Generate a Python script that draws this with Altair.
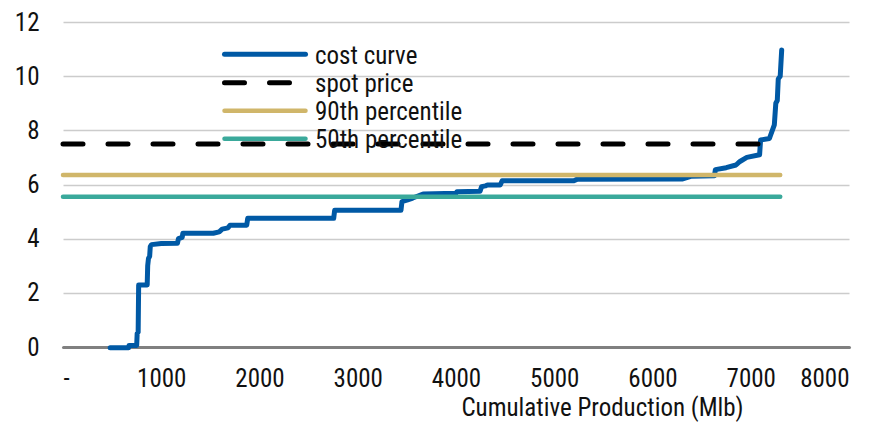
import altair as alt
import pandas as pd

# ---- data ----
cost_x = [480, 668, 672, 750, 755, 765, 770, 857, 862, 870, 882, 888, 900, 1000,
          1165, 1175, 1213, 1220, 1530, 1590, 1620, 1680, 1700, 1870, 1880, 2755,
          2765, 3440, 3450, 3500, 3560, 3665, 4000, 4010, 4245, 4260, 4300, 4320,
          4450, 4470, 5200, 5230, 6300, 6390, 6630, 6640, 6750, 6850, 6890, 6960,
          7090, 7100, 7190, 7200, 7240, 7255, 7270, 7280, 7300, 7315]
cost_y = [-0.03, -0.03, 0.06, 0.06, 0.5, 0.55, 2.29, 2.29, 3.0, 3.27, 3.35, 3.7, 3.78, 3.82,
          3.83, 4.0, 4.05, 4.2, 4.2, 4.25, 4.35, 4.4, 4.5, 4.5, 4.75, 4.75,
          5.05, 5.05, 5.37, 5.42, 5.5, 5.65, 5.68, 5.73, 5.75, 5.92, 5.95, 5.98,
          5.98, 6.14, 6.14, 6.19, 6.2, 6.3, 6.32, 6.55, 6.62, 6.72, 6.85, 7.0,
          7.1, 7.64, 7.7, 7.8, 8.2, 9.0, 9.1, 9.9, 10.0, 10.97]

spot_price = 7.5
pct_90 = 6.35
pct_50 = 5.55
ref_start = 0
ref_end = 7300

series_names = ["cost curve", "spot price", "90th percentile", "50th percentile"]
series_colors = ["#0059A5", "#000000", "#D0B66A", "#3AA99B"]
x_ticks = [0, 1000, 2000, 3000, 4000, 5000, 6000, 7000, 8000]
y_ticks = [0, 2, 4, 6, 8, 10, 12]

FONT = "Roboto Condensed, Liberation Sans Narrow, Roboto, sans-serif"
FS = 25

curve_df = pd.DataFrame({"x": cost_x, "y": cost_y, "i": list(range(len(cost_x)))})

x_enc = alt.X("x:Q", scale=alt.Scale(domain=[0, 8000], nice=False),
              axis=alt.Axis(values=x_ticks, format="d",
                            labelExpr="datum.value == 0 ? '-' : datum.label",
                            grid=False, ticks=False, tickSize=0,
                            domain=True, domainColor="#808080", domainWidth=3,
                            domainCap="round",
                            labelFont=FONT, labelFontSize=FS, labelColor="#111111",
                            labelPadding=19, labelBaseline="top",
                            title="Cumulative Production (Mlb)",
                            titleFont=FONT, titleFontSize=FS, titleFontWeight="normal",
                            titleColor="#111111", titleX=539, titleY=68,
                            titleAlign="center", titleBaseline="alphabetic"))
y_enc = alt.Y("y:Q", scale=alt.Scale(domain=[0, 12], nice=False),
              axis=alt.Axis(values=y_ticks, grid=True, gridColor="#cccccc",
                            gridWidth=1.3, domain=False, ticks=False, tickSize=0,
                            labelFont=FONT, labelFontSize=FS, labelColor="#111111",
                            labelPadding=24, title=None))

curve = alt.Chart(curve_df).mark_line(
    color=series_colors[0], strokeWidth=5, strokeCap="round", strokeJoin="round"
).encode(x=x_enc, y=y_enc, order="i:Q")

layers = [curve]
ref_values = [spot_price, pct_90, pct_50]
for k, val in enumerate(ref_values):
    name = series_names[k + 1]
    df = pd.DataFrame({"x": [ref_start], "x2": [ref_end], "y": [val], "s": [name]})
    kw = dict(color=series_colors[k + 1], strokeWidth=5 if k == 0 else 4.5,
              strokeCap="round")
    if k == 0:
        kw["strokeDash"] = [20, 25]
    layers.append(alt.Chart(df).mark_rule(**kw).encode(
        x="x:Q", x2="x2:Q", y="y:Q"))

# ---- legend (drawn as marks) ----
leg_sym_y = [32.3, 60.7, 88.7, 116.7]
leg_txt_y = [41.5, 69.9, 98.2, 125.9]
for k, name in enumerate(series_names):
    ldf = pd.DataFrame({"label": [name]})
    kw = dict(color=series_colors[k], strokeWidth=5 if k < 2 else 4.5, strokeCap="round")
    if k == 1:
        kw["strokeDash"] = [20, 25]
    layers.append(alt.Chart(ldf).mark_rule(**kw).encode(
        x=alt.value(161.5), x2=alt.value(242.5), y=alt.value(leg_sym_y[k])))
    layers.append(alt.Chart(ldf).mark_text(
        align="left", baseline="alphabetic", font=FONT, fontSize=FS, color="#111111"
    ).encode(x=alt.value(252), y=alt.value(leg_txt_y[k]), text="label:N"))

chart = alt.layer(*layers).properties(
    width=786, height=325,
    autosize=alt.AutoSizeParams(type="none"),
    padding={"left": 55, "top": 14, "right": 21, "bottom": 75},
    background="white",
).configure_view(stroke=None)

chart.save("out.html", embed_options={"renderer": "svg", "actions": False})
